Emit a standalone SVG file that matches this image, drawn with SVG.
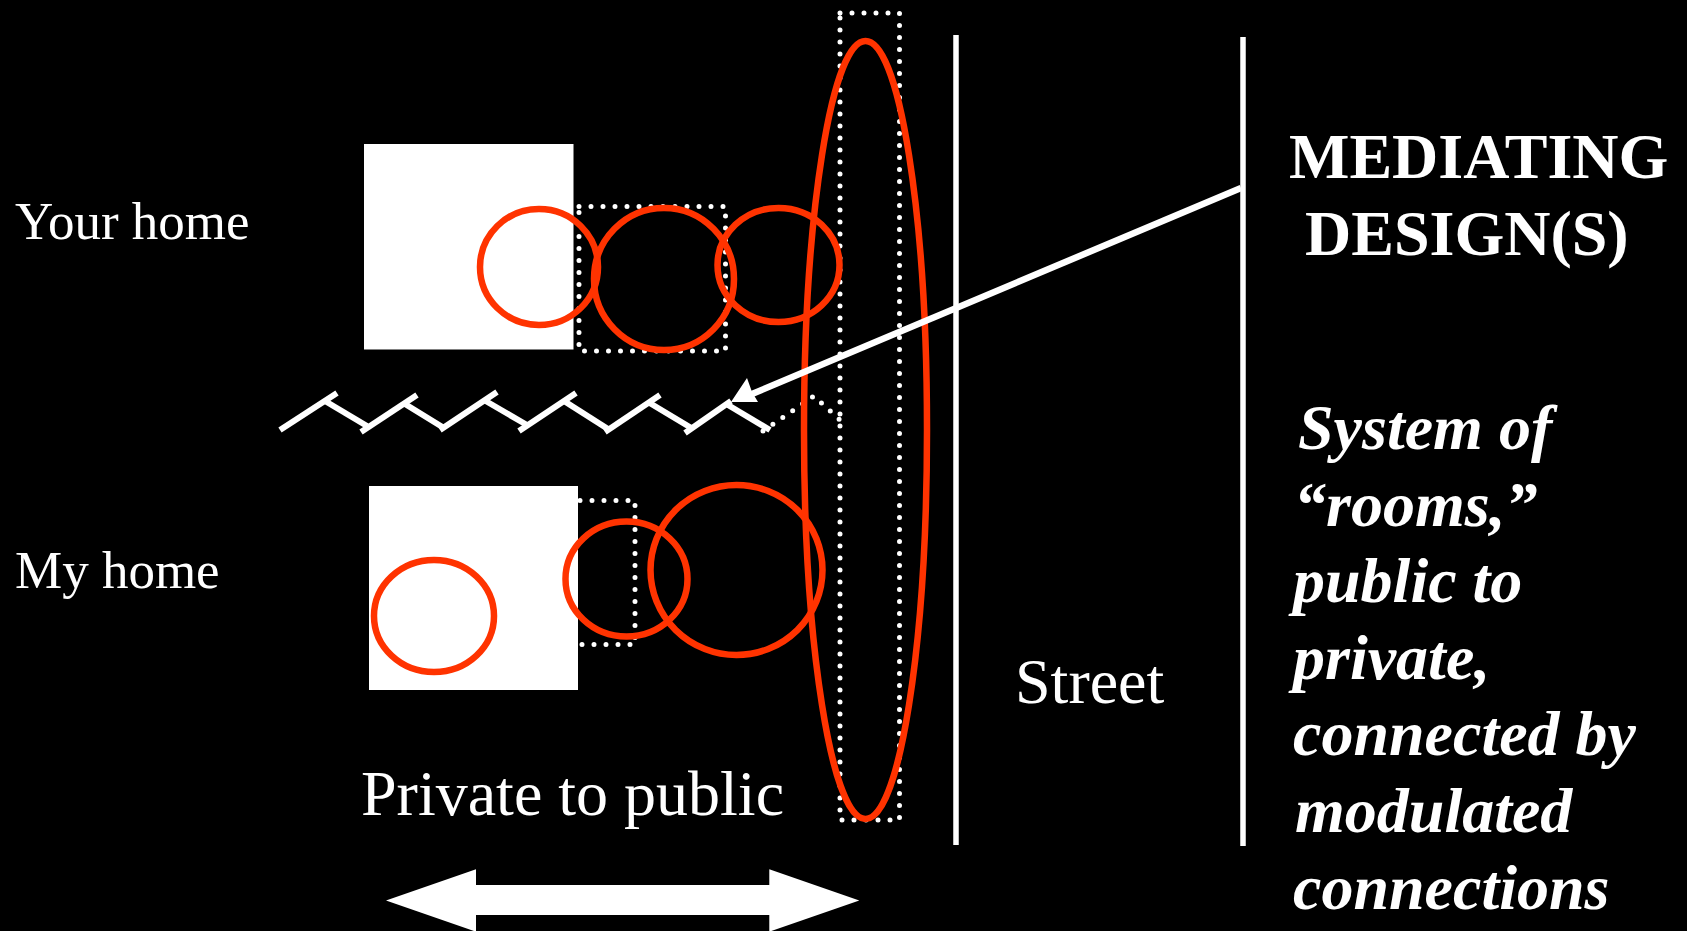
<svg xmlns="http://www.w3.org/2000/svg" width="1687" height="931" viewBox="0 0 1687 931">
  <defs>
    <style>
      .lbl { font-family: "Liberation Serif", "Times New Roman", serif; fill: #ffffff; }
      .big { font-size: 64px; }
      .home { font-size: 53px; }
      .head { font-size: 64px; font-weight: bold; }
      .desc { font-size: 64px; font-weight: bold; font-style: italic; }
      .ring { fill: none; stroke: #ff3300; stroke-width: 6.5; }
      .dots { fill: none; stroke: #ffffff; stroke-width: 5; stroke-linecap: round; stroke-dasharray: 0 12; }
      .wall { stroke: #ffffff; stroke-width: 5.5; }
      .zig { stroke: #ffffff; stroke-width: 6; stroke-linecap: butt; }
    </style>
  </defs>

  <rect x="0" y="0" width="1687" height="931" fill="#000000"/>

  <!-- house blocks -->
  <g id="your-home">
    <rect x="364" y="144" width="209.5" height="205.5" fill="#ffffff"/>
    <text class="lbl home" x="15" y="239">Your home</text>
  </g>
  <g id="my-home">
    <rect x="369" y="486" width="209" height="204" fill="#ffffff"/>
    <text class="lbl home" x="15" y="588">My home</text>
  </g>

  <!-- dotted zones -->
  <g id="front-zone-top">
    <rect class="dots" x="579" y="206.5" width="146.5" height="144.5"/>
  </g>
  <g id="front-zone-bottom">
    <path class="dots" d="M580 500.5 H635 V644.5 H580"/>
  </g>
  <g id="edge-zone">
    <rect class="dots" x="840" y="13" width="59.5" height="807"/>
  </g>

  <!-- fence between the two lots -->
  <g id="fence">
    <line class="zig" x1="280" y1="430" x2="337" y2="393"/>
    <line class="zig" x1="325" y1="401" x2="367" y2="426"/>
    <line class="zig" x1="361" y1="432" x2="417" y2="395"/>
    <line class="zig" x1="405" y1="404" x2="444" y2="428"/>
    <line class="zig" x1="440" y1="430" x2="497" y2="392"/>
    <line class="zig" x1="484" y1="400" x2="527" y2="425"/>
    <line class="zig" x1="519" y1="431" x2="576" y2="393"/>
    <line class="zig" x1="564" y1="401" x2="608" y2="429"/>
    <line class="zig" x1="605" y1="432" x2="660" y2="395"/>
    <line class="zig" x1="648" y1="402" x2="693" y2="429"/>
    <line class="zig" x1="685" y1="433" x2="731" y2="401"/>
    <line class="zig" x1="728" y1="405" x2="770" y2="430"/>
    <path class="dots" d="M763 431 L814 396 L840 420"/>
  </g>

  <!-- rooms -->
  <g id="rooms-top">
    <ellipse class="ring" cx="539" cy="267" rx="59" ry="58"/>
    <ellipse class="ring" cx="664" cy="279" rx="70" ry="71"/>
    <ellipse class="ring" cx="778.5" cy="265" rx="61" ry="57"/>
  </g>
  <g id="rooms-bottom">
    <ellipse class="ring" cx="434" cy="616" rx="60" ry="56"/>
    <ellipse class="ring" cx="626.5" cy="579" rx="61" ry="57.5"/>
    <ellipse class="ring" cx="736.5" cy="570" rx="86" ry="85"/>
  </g>
  <g id="edge-room">
    <ellipse class="ring" cx="865.5" cy="430" rx="61.5" ry="389"/>
  </g>

  <!-- street -->
  <g id="street">
    <line class="wall" x1="956" y1="35" x2="956" y2="845"/>
    <line class="wall" x1="1243" y1="37" x2="1243" y2="846"/>
    <text class="lbl big" x="1015" y="703">Street</text>
  </g>

  <!-- private / public range -->
  <g id="range">
    <text class="lbl big" x="361" y="815">Private to public</text>
    <polygon fill="#ffffff" points="386,900.5 476,869.3 476,885 769.3,885 769.3,869.3 859.3,900.5 769.3,931.7 769.3,915 476,915 476,931.7"/>
  </g>

  <!-- heading and description -->
  <g id="mediating-design">
    <text class="lbl head" x="1289" y="178">MEDIATING</text>
    <text class="lbl head" x="1305" y="255">DESIGN(S)</text>
    <text class="lbl desc" x="1298" y="449">System of</text>
    <text class="lbl desc" x="1294" y="526">“rooms,”</text>
    <text class="lbl desc" x="1293" y="602">public to</text>
    <text class="lbl desc" x="1293" y="679">private,</text>
    <text class="lbl desc" x="1293" y="755">connected by</text>
    <text class="lbl desc" x="1295" y="832">modulated</text>
    <text class="lbl desc" x="1293" y="909">connections</text>
  </g>

  <!-- pointer from the heading to the fence -->
  <g id="connectors">
    <line x1="1241" y1="188" x2="752" y2="394" stroke="#ffffff" stroke-width="6.5"/>
    <polygon fill="#ffffff" points="731,402 747,378 752,392 758,402"/>
  </g>
</svg>
